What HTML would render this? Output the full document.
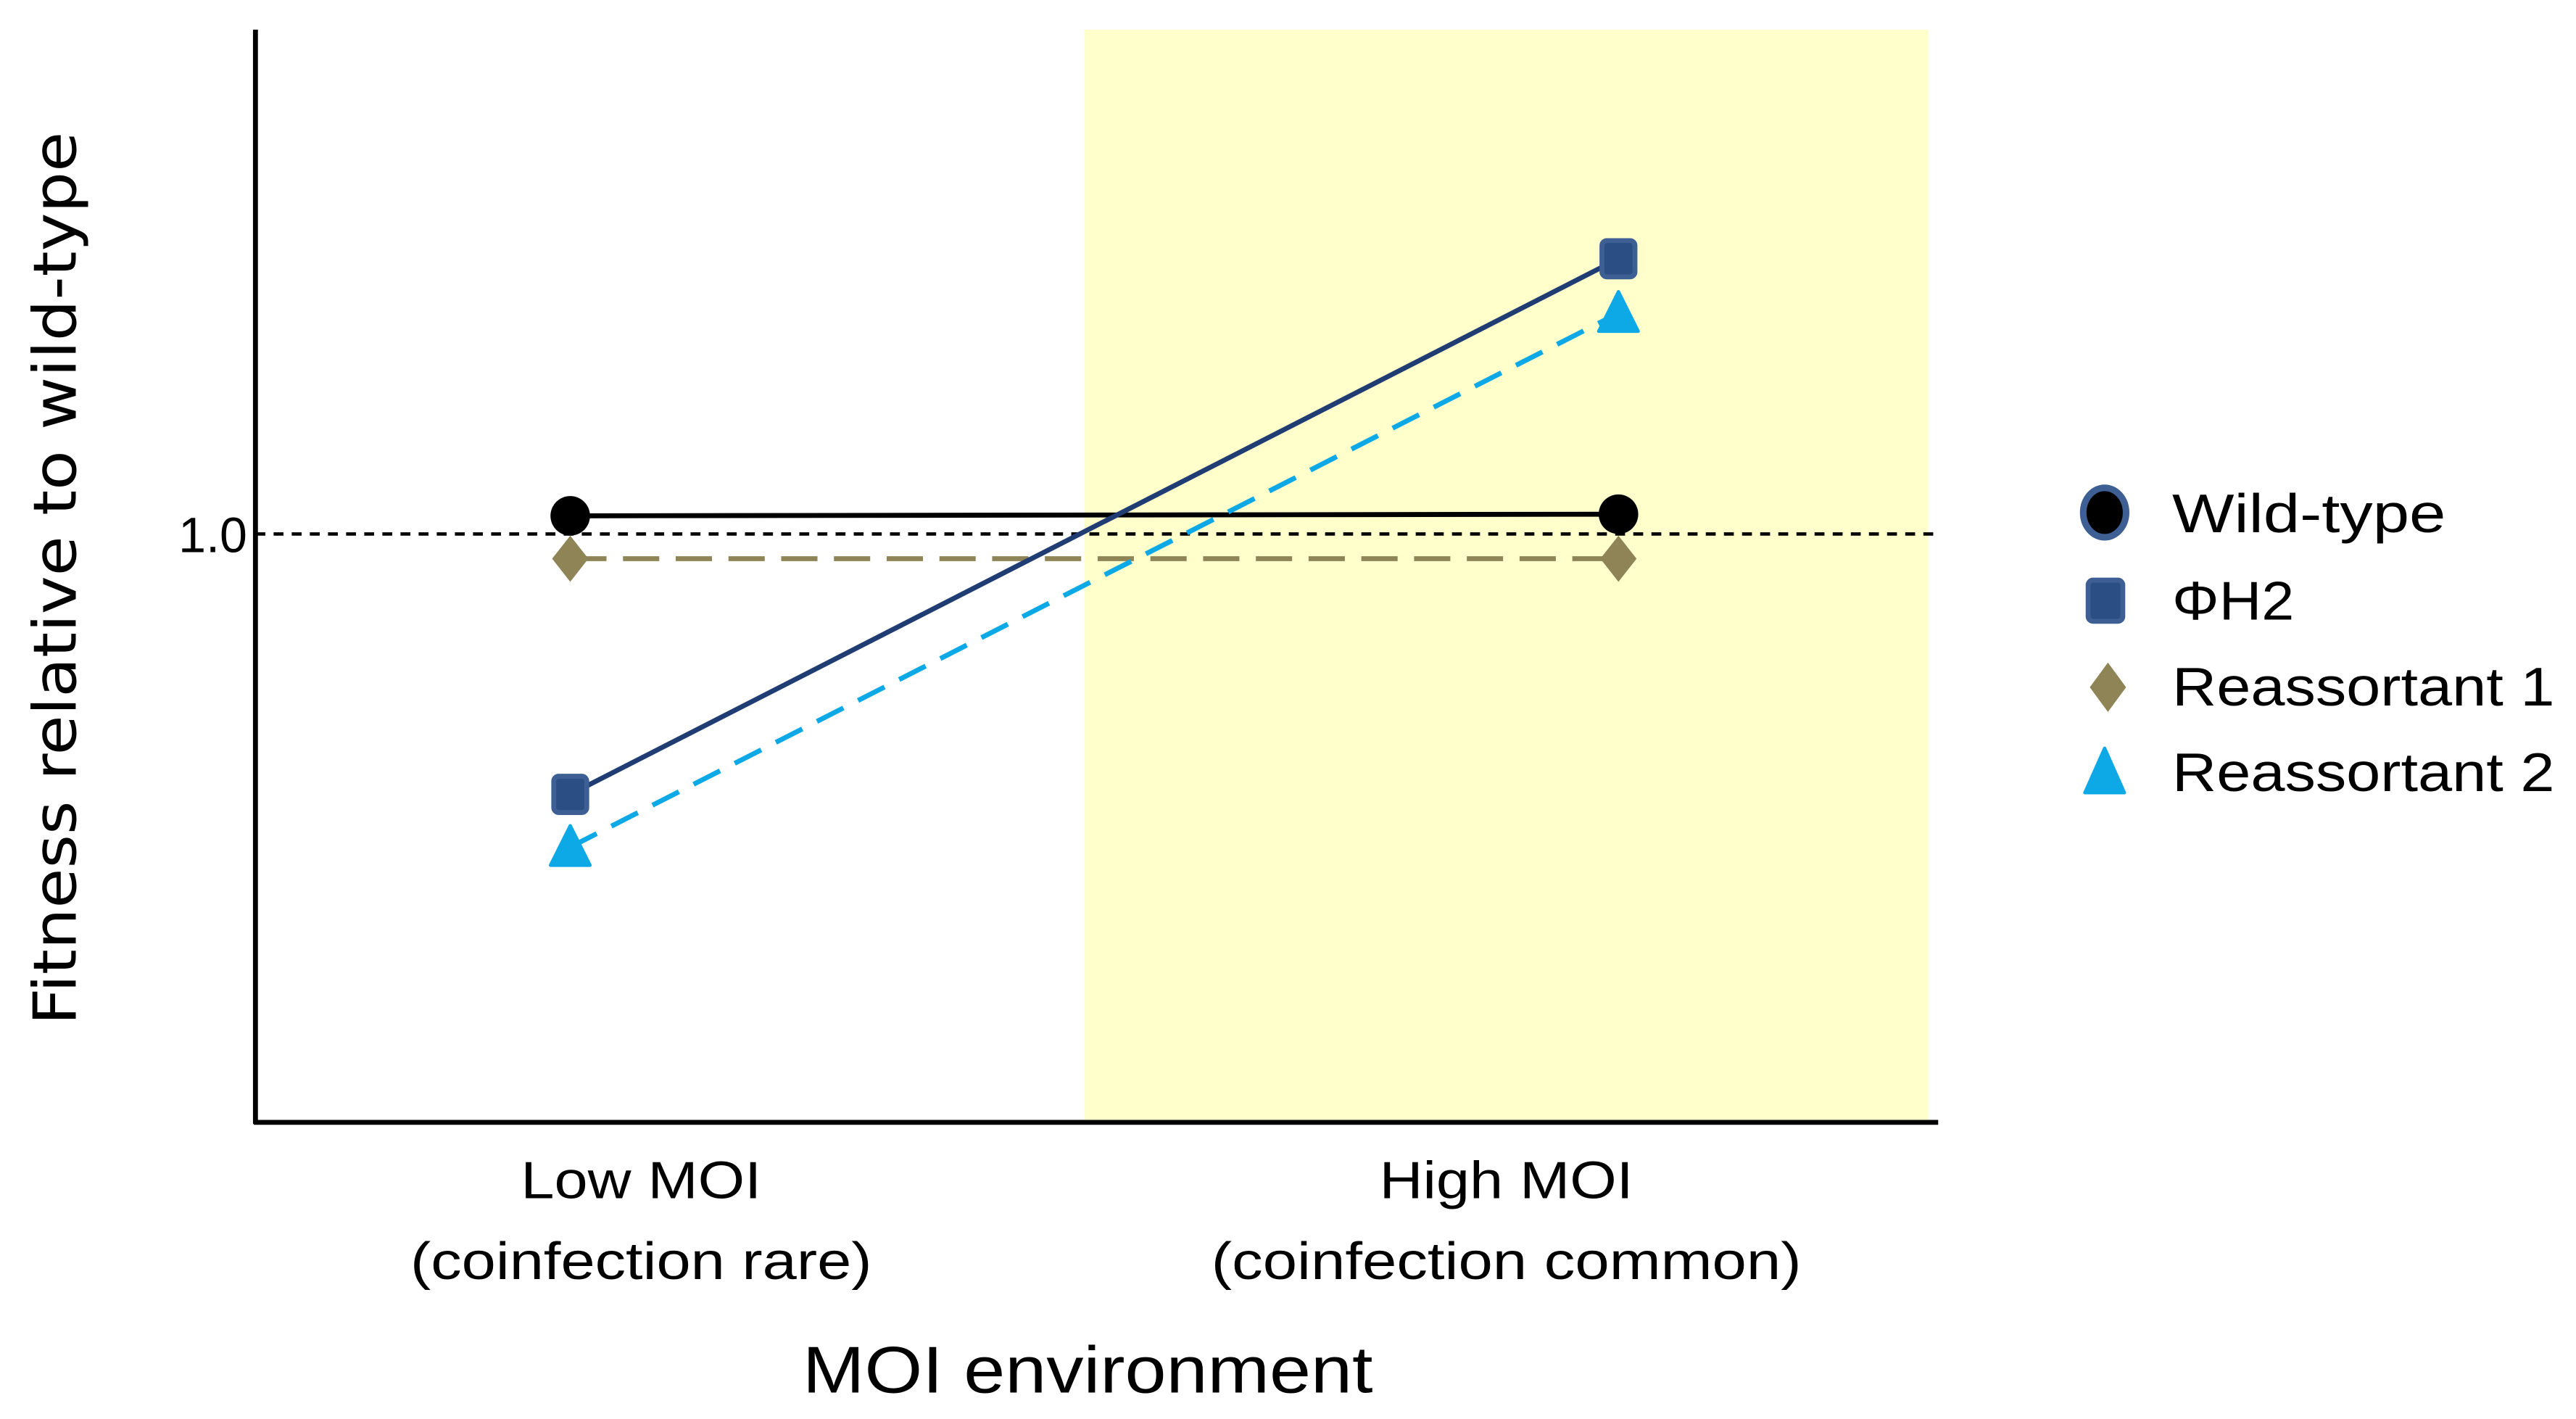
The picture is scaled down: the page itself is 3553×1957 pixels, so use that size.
<!DOCTYPE html>
<html><head><meta charset="utf-8"><style>html,body{margin:0;padding:0;background:#fff}svg{display:block}</style></head>
<body>
<svg id="chart" width="3553" height="1957" viewBox="0 0 1563 861" preserveAspectRatio="none" xmlns="http://www.w3.org/2000/svg">
<rect x="658" y="18" width="512" height="663" fill="#FFFFCC"/>
<line x1="155" y1="324" x2="1178" y2="324" stroke="#000" stroke-width="2" stroke-dasharray="6,5"/>
<text x="150" y="335" text-anchor="end" font-family="Liberation Sans, sans-serif" font-size="30">1.0</text>
<g id="series"></g>
<line x1="155" y1="18" x2="155" y2="682" stroke="#000" stroke-width="3"/>
<line x1="154" y1="681" x2="1176" y2="681" stroke="#000" stroke-width="3"/>
<g font-family="Liberation Sans Narrow, Liberation Sans, sans-serif" font-size="32" text-anchor="middle">
<text x="389" y="727" textLength="146" lengthAdjust="spacingAndGlyphs">Low MOI</text>
<text x="389" y="776" textLength="280" lengthAdjust="spacingAndGlyphs">(coinfection rare)</text>
<text x="914" y="727" textLength="154" lengthAdjust="spacingAndGlyphs">High MOI</text>
<text x="914" y="776" textLength="358" lengthAdjust="spacingAndGlyphs">(coinfection common)</text>
<text x="660" y="845" font-size="40" textLength="346" lengthAdjust="spacingAndGlyphs">MOI environment</text>
</g>
<text transform="translate(46,351) rotate(-90)" text-anchor="middle" font-family="DejaVu Sans, sans-serif" font-size="36" textLength="542" lengthAdjust="spacingAndGlyphs">Fitness relative to wild-type</text>
<g font-family="Liberation Sans Narrow, Liberation Sans, sans-serif" font-size="33">
<g><ellipse cx="1277" cy="311" rx="13" ry="15" fill="#000" stroke="#3D5F94" stroke-width="4"/><text x="1318" y="323" textLength="166" lengthAdjust="spacingAndGlyphs">Wild-type</text></g>
<g><rect x="1267" y="352" width="21" height="25" rx="3" fill="#2B4E84" stroke="#3D5F94" stroke-width="3"/><text x="1318" y="376" textLength="74" lengthAdjust="spacingAndGlyphs">ΦH2</text></g>
<g><polygon points="1279,402 1290,417 1279,432 1268,417" fill="#8E8456"/><text x="1318" y="428" textLength="232" lengthAdjust="spacingAndGlyphs">Reassortant 1</text></g>
<g><polygon points="1277,454 1289,481 1265,481" fill="#0DA9E6" stroke="#0DA9E6" stroke-width="2" stroke-linejoin="round"/><text x="1318" y="480" textLength="232" lengthAdjust="spacingAndGlyphs">Reassortant 2</text></g>
</g>
</svg>
<script>
const categories = ["Low MOI", "High MOI"];
const wildType = [1.022, 1.024];
const phiH2 = [0.684, 1.334];
const reassortant1 = [0.97, 0.97];
const reassortant2 = [0.62, 1.268];

const NS = "http://www.w3.org/2000/svg";
const g = document.getElementById("series");
function xPos(i){ return 346 + i * (982 - 346); }
function yPos(v){ return 324 - (v - 1) * 500; }
function mk(tag, attrs){ const e=document.createElementNS(NS,tag); for(const k in attrs) e.setAttribute(k,attrs[k]); g.appendChild(e); return e; }
function line(vals, color, dash, w, name){
  const l = mk("line",{x1:xPos(0),y1:yPos(vals[0]),x2:xPos(1),y2:yPos(vals[1]),stroke:color,"stroke-width":w,"stroke-dasharray":dash});
  
  
}
line(reassortant1, "#8E8456", "22,10", 3, "line-reassortant-1");
line(wildType, "#000", "none", 3, "line-wild-type");
line(phiH2, "#1F3D73", "none", 3, "line-phi-h2");
line(reassortant2, "#0DA9E6", "18,10", 3, "line-reassortant-2");
categories.forEach((c,i)=>{
  const x = xPos(i);
  let y = yPos(reassortant1[i]);
  const d = mk("polygon",{points:`${x},${y-14} ${x+11},${y} ${x},${y+14} ${x-11},${y}`,fill:"#8E8456"});
  
  
  y = yPos(wildType[i]);
  const e = mk("ellipse",{cx:x,cy:y,rx:12,ry:12,fill:"#000"});
  
  
  y = yPos(phiH2[i]);
  const r = mk("rect",{x:x-10,y:y-11,width:20,height:22,rx:3,fill:"#2B4E84",stroke:"#3D5F94","stroke-width":3});
  
  
  y = yPos(reassortant2[i]);
  const t = mk("polygon",{points:`${x},${y-13} ${x+12},${y+11} ${x-12},${y+11}`,fill:"#0DA9E6",stroke:"#0DA9E6","stroke-width":2,"stroke-linejoin":"round"});
  
  
});
</script>
</body></html>
